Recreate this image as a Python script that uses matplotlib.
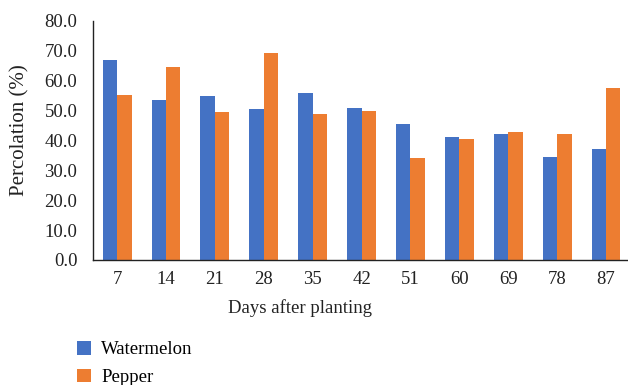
import numpy as np
import matplotlib.pyplot as plt

days = ['7', '14', '21', '28', '35', '42', '51', '60', '69', '78', '87']
watermelon = [66.9, 53.5, 54.8, 50.5, 55.9, 50.8, 45.5, 41.1, 42.1, 34.4, 37.1]
pepper = [55.2, 64.5, 49.5, 69.2, 48.8, 49.8, 34.1, 40.5, 42.8, 42.1, 57.5]

plt.rcParams['font.family'] = ['Liberation Serif', 'DejaVu Serif']

W, H = 628, 385
fig = plt.figure(figsize=(W / 100, H / 100), dpi=100)
ax = fig.add_axes([92.7 / W, (H - 260) / H, 1 - 92.7 / W, 239.2 / H])

x = np.arange(len(days))
bw = 0.296
b1 = ax.bar(x - bw / 2, watermelon, bw, color='#4472C4', label='Watermelon')
b2 = ax.bar(x + bw / 2, pepper, bw, color='#ED7D31', label='Pepper')

ax.set_xlim(-0.5, 10.45)
ax.set_ylim(0, 80)
ax.set_yticks(np.arange(0, 81, 10))
ax.set_yticklabels([f'{v:.1f}' for v in np.arange(0, 81, 10)])
ax.set_xticks(x)
ax.set_xticklabels(days)
ax.tick_params(length=0, labelsize=13.5, colors='#222222')
ax.tick_params(axis='x', pad=8)
ax.tick_params(axis='y', pad=11)
for s in ['top', 'right']:
    ax.spines[s].set_visible(False)
for s in ['left', 'bottom']:
    ax.spines[s].set_color('#222222')
    ax.spines[s].set_linewidth(1.0)

fig.text(300 / W, 1 - 308 / H, 'Days after planting', ha='center', va='center',
         fontsize=13.5, color='#222222')
fig.text(20 / W, 1 - 130 / H, 'Percolation (%)', ha='center', va='center',
         rotation=90, fontsize=15, color='#222222')

fig.legend(handles=[b1, b2], loc='upper left', bbox_to_anchor=(77 / W, 1 - 341 / H),
           frameon=False, fontsize=13.5, handlelength=0.75, handleheight=0.75,
           handletextpad=0.55, labelspacing=0.55, borderaxespad=0, borderpad=0)

fig.savefig('out.png', dpi=100)
